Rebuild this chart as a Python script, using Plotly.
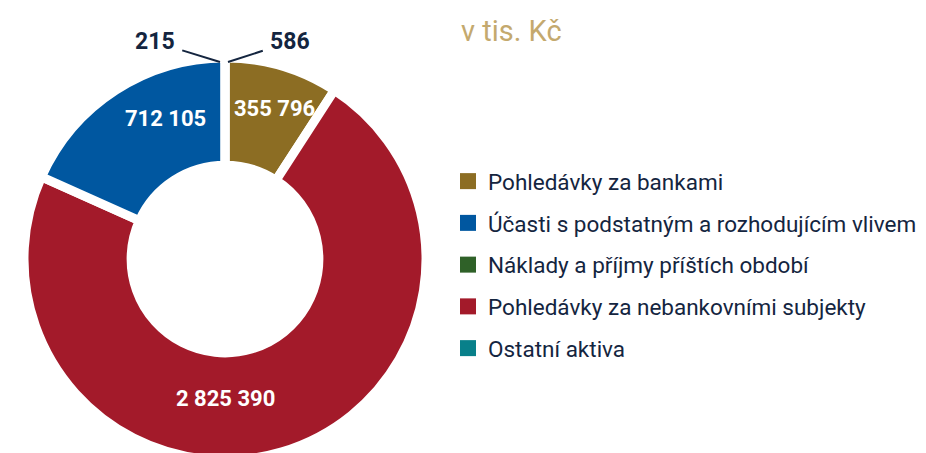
import plotly.graph_objects as go

# ---- data ----
labels = ["Pohledávky za bankami",
          "Účasti s podstatným a rozhodujícím vlivem",
          "Náklady a příjmy příštích období",
          "Pohledávky za nebankovními subjekty",
          "Ostatní aktiva"]
values = [355796, 712105, 215, 2825390, 586]
colors = ["#8C6D23", "#0057A0", "#2F6128", "#A31A2A", "#08808A"]
unit_label = "v tis. Kč"

# order of slices around the ring (clockwise from 12 o'clock)
ring_order = [4, 0, 3, 1, 2]

def fmt(v):
    return f"{v:,}".replace(",", " ")

W, H = 926, 470
NAVY = "#14253F"
FONT = "Roboto, sans-serif"

def px(x):
    return x / W

def py(y):
    return 1 - y / H

ring_vals = [values[i] for i in ring_order]
ring_labels = [labels[i] for i in ring_order]
ring_cols = [colors[i] for i in ring_order]

fig = go.Figure()
fig.add_trace(go.Pie(
    values=ring_vals, labels=ring_labels,
    textinfo="none", hoverinfo="label+value",
    sort=False, direction="clockwise", rotation=0,
    hole=0.467,
    marker=dict(colors=ring_cols, line=dict(color="white", width=9)),
    domain=dict(x=[px(24), px(426)], y=[py(460), py(58)]),
    showlegend=False,
))

# legend entries
for lab, col in zip(labels, colors):
    fig.add_trace(go.Scatter(
        x=[None], y=[None], mode="markers", name=lab, legendgroup=lab,
        marker=dict(symbol="square", size=16, color=col),
    ))

# value labels inside the large slices (label placement in pixels)
inside_pos = {0: (274, 108), 1: (165, 118), 3: (225, 398)}
for i, (lx, ly) in inside_pos.items():
    fig.add_annotation(x=px(lx), y=py(ly), xref="paper", yref="paper",
                       xanchor="center", yanchor="middle",
                       showarrow=False, text=fmt(values[i]),
                       font=dict(family=FONT, size=22, color="white", weight="bold"))

# call-outs for the tiny slices
callouts = {2: ((220, 62), (-65, -20)), 4: ((228, 62), (62, -20))}
for i, ((tx, ty), (ax, ay)) in callouts.items():
    fig.add_annotation(x=px(tx), y=py(ty), xref="paper", yref="paper",
                       ax=ax, ay=ay, text=fmt(values[i]), showarrow=True,
                       arrowhead=0, arrowwidth=2, arrowcolor=NAVY,
                       startstandoff=6,
                       font=dict(family=FONT, size=23, color=NAVY, weight="bold"))

fig.add_annotation(x=px(459), y=py(31.5), xref="paper", yref="paper",
                   xanchor="left", yanchor="middle", showarrow=False,
                   text=unit_label,
                   font=dict(family=FONT, size=29, color="#C4A96E"))

fig.update_layout(
    width=W, height=H,
    margin=dict(l=0, r=0, t=0, b=0),
    paper_bgcolor="white", plot_bgcolor="white",
    xaxis=dict(visible=False), yaxis=dict(visible=False),
    legend=dict(x=px(448), y=py(160), xanchor="left", yanchor="top",
                traceorder="grouped", tracegroupgap=9.5,
                font=dict(family=FONT, size=22.5, color=NAVY),
                itemclick=False, itemdoubleclick=False),
)
fig.write_html("out.html", config={"displayModeBar": False},
               post_script="document.body.style.margin='0px';")
